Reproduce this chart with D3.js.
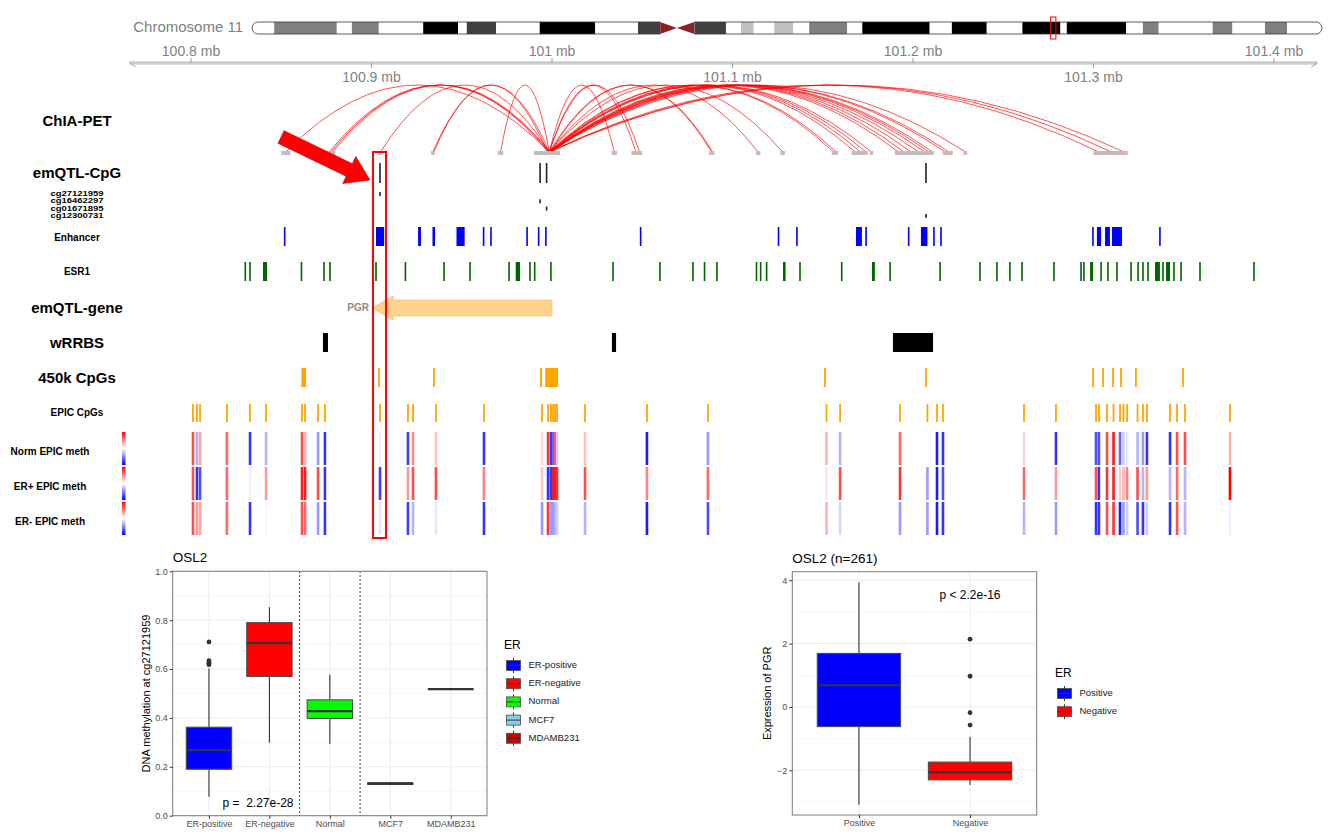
<!DOCTYPE html>
<html>
<head>
<meta charset="utf-8">
<script src="https://cdn.jsdelivr.net/npm/d3@7"></script>
<style>
body { margin: 0; background: #fff; }
text { font-family: "Liberation Sans", Arial, sans-serif; }
</style>
</head>
<body>
<div id="chart"></div>
<script>
// ---- data ----
// chromosome 11 bands [start Mb, end Mb, stain]
var chromBands = [
  [0, 2.8, "gneg"], [2.8, 10.7, "gpos50"], [10.7, 12.6, "gneg"], [12.6, 16.0, "gpos50"],
  [16.0, 21.6, "gneg"], [21.6, 26.0, "gpos100"], [26.0, 27.1, "gneg"], [27.1, 30.8, "gpos75"],
  [30.8, 36.3, "gneg"], [36.3, 43.3, "gpos100"], [43.3, 48.7, "gneg"], [48.7, 51.5, "gpos75"],
  [51.5, 53.6, "acen"], [53.6, 55.8, "acen"], [55.8, 59.8, "gpos75"], [59.8, 61.7, "gneg"],
  [61.7, 63.3, "gpos25"], [63.3, 65.9, "gneg"], [65.9, 68.3, "gpos25"], [68.3, 70.3, "gneg"],
  [70.3, 75.1, "gpos50"], [75.1, 77.0, "gneg"], [77.0, 85.5, "gpos100"], [85.5, 88.3, "gneg"],
  [88.3, 92.7, "gpos100"], [92.7, 97.2, "gneg"], [97.2, 102.0, "gpos100"], [102.0, 102.8, "gneg"],
  [102.8, 110.3, "gpos100"], [110.3, 112.4, "gneg"], [112.4, 114.4, "gpos50"], [114.4, 121.2, "gneg"],
  [121.2, 123.7, "gpos50"], [123.7, 127.8, "gneg"], [127.8, 130.6, "gpos50"], [130.6, 135.0, "gneg"]
];
var chromLength = 135.0;
var viewRange = [100.766, 101.424];
var axisTicks = [100.8, 100.9, 101.0, 101.1, 101.2, 101.3, 101.4];

var chiaAnchors = [
  [100.850, 100.855], [100.875, 100.880], [100.9035, 100.906], [100.933, 100.935], [100.970, 100.973],
  [100.990, 101.0045], [101.033, 101.036], [101.044, 101.050], [101.087, 101.090], [101.113, 101.1155],
  [101.1265, 101.129], [101.155, 101.1585], [101.166, 101.175], [101.176, 101.178], [101.190, 101.2115],
  [101.2165, 101.222], [101.228, 101.230], [101.300, 101.319]
];
var chiaArcs = [
  [100.8525, 100.9985], [100.8765, 100.9980], [100.8775, 100.9985], [100.8785, 100.9990],
  [100.9050, 100.9985], [100.9340, 100.9985], [100.9345, 100.9975], [100.9715, 100.9985],
  [100.9985, 101.0345], [100.9985, 101.0465], [100.9985, 101.0485], [100.9985, 101.0885],
  [100.9990, 101.0890], [100.9985, 101.1142], [100.9985, 101.1278], [100.9985, 101.1560],
  [100.9990, 101.1575], [100.9985, 101.1680], [100.9985, 101.1710], [100.9990, 101.1740],
  [100.9985, 101.1770], [100.9985, 101.1920], [100.9990, 101.1950], [100.9985, 101.1990],
  [100.9985, 101.2030], [100.9990, 101.2065], [100.9985, 101.2090], [100.9985, 101.2110],
  [100.9985, 101.2180], [100.9990, 101.2200], [100.9985, 101.2292], [100.9985, 101.3030],
  [100.9990, 101.3100], [100.9985, 101.3170]
];

var emqtlCpgNames = ["cg27121959", "cg16462297", "cg01671895", "cg12300731"];
var emqtlCpgPos = [100.9047, 100.9934, 100.9970, 101.2072];

var enhancers = [100.8519, [100.9025, 100.9070], [100.9258, 100.9274], [100.9338, 100.9352],
  [100.9471, 100.9516], 100.9621, 100.9662, 100.9862, 100.9926, 100.9966, 101.0491, 101.1255,
  101.1357, [101.1684, 101.1717], 101.1740, 101.1976, [101.2044, 101.2080], 101.2116, 101.2155,
  101.2997, [101.3019, 101.3042], [101.3064, 101.3091], [101.3102, 101.3158], 101.3368];

var esr1Peaks = [100.8301, 100.8327, [100.8399, 100.8421], 100.8612, 100.8737, 100.8770, 100.9025,
  100.9188, 100.9402, 100.9546, 100.9762, [100.9799, 100.9823], 100.9878, 100.9904, 100.9994,
  101.0338, 101.0598, 101.0781, 101.0845, 101.0914, 101.1133, 101.1156, 101.1189, [101.1280, 101.1294],
  101.1374, 101.1605, [101.1773, 101.1789], 101.1873, 101.2150, 101.2371, 101.2465, 101.2537,
  101.2604, 101.2781, 101.2931, 101.2947, [101.2981, 101.2997], 101.3042, 101.3080, 101.3130,
  101.3208, 101.3247, 101.3274, 101.3302, [101.3341, 101.3368], 101.3385, [101.3402, 101.3424],
  101.3446, 101.3485, 101.3590, 101.3889];

var geneName = "PGR";
var geneRange = [100.9003, 101.0000];

var wrrbs = [[100.8731, 100.8759], [101.0332, 101.0355], [101.1889, 101.2111]];

var cpg450k = [[100.8612, 100.8637], 100.9042, 100.9346, [100.9934, 100.9945], [100.9962, 101.0033],
  101.1512, 101.2072, 101.2997, 101.3053, 101.3108, 101.3152, 101.3235, 101.3496];

var epicPos = [100.8011, 100.8033, 100.8050, 100.8199, 100.8327, 100.8416, 100.8615, 100.8632,
  100.8704, 100.8742, 100.9047, 100.9202, 100.9230, 100.9357, 100.9623, 100.9945, 100.9978,
  100.9994, 101.0006, 101.0017, 101.0028, 101.0183, 101.0526, 101.0864, 101.1521, 101.1596,
  101.1928, 101.2080, 101.2133, 101.2166, 101.2615, 101.2792, 101.3014, 101.3030, 101.3075,
  101.3111, 101.3147, 101.3166, 101.3186, 101.3244, 101.3274, 101.3296, 101.3424, 101.3463,
  101.3507, 101.3756];
var normMeth = [0.85, 0.35, 0.68, 0.80, 0.10, 0.35, 0.85, 0.65, 0.30, 0.10, 0.53, 0.12, 0.72, 0.62,
  0.10, 0.58, 0.90, 0.10, 0.20, 0.85, 0.40, 0.62, 0.05, 0.30, 0.65, 0.35, 0.80, 0.50, 0.05, 0.10,
  0.58, 0.10, 0.15, 0.15, 0.85, 0.95, 0.20, 0.40, 0.45, 0.35, 0.30, 0.10, 0.10, 0.85, 0.85, 0.65];
var erPosMeth = [0.85, 0.10, 0.15, 0.80, 0.47, 0.70, 0.95, 0.95, 0.85, 0.10, 0.12, 0.70, 0.85, 0.85,
  0.75, 0.62, 0.10, 0.10, 0.95, 0.95, 0.90, 0.85, 0.75, 0.80, 0.55, 0.85, 0.90, 0.30, 0.05, 0.15,
  0.80, 0.70, 0.85, 0.10, 0.90, 0.95, 0.60, 0.65, 0.75, 0.85, 0.35, 0.70, 0.35, 0.80, 0.35, 1.00];
var erNegMeth = [0.85, 0.70, 0.68, 0.80, 0.10, 0.52, 0.85, 0.80, 0.30, 0.10, 0.45, 0.12, 0.35, 0.45,
  0.10, 0.30, 0.90, 0.30, 0.30, 0.35, 0.40, 0.35, 0.05, 0.15, 0.65, 0.42, 0.30, 0.30, 0.05, 0.10,
  0.35, 0.30, 0.10, 0.10, 0.85, 0.90, 0.05, 0.30, 0.40, 0.15, 0.10, 0.40, 0.10, 0.85, 0.35, 0.47];

// box plot 1: methylation at cg27121959
var methCats = ["ER-positive", "ER-negative", "Normal", "MCF7", "MDAMB231"];
var methFills = ["#0000ff", "#ff0000", "#00ff00", "#87ceeb", "#cd0000"];
var methLow = [0.078, 0.298, 0.293, 0.125, 0.518];
var methQ1 = [0.190, 0.570, 0.398, 0.128, 0.518];
var methMed = [0.268, 0.706, 0.428, 0.131, 0.518];
var methQ3 = [0.362, 0.790, 0.474, 0.135, 0.518];
var methHigh = [0.603, 0.853, 0.577, 0.138, 0.518];
var methOut = [[0.618, 0.624, 0.629, 0.634, 0.711], [], [], [], []];
var methTicks = [0, 0.2, 0.4, 0.6, 0.8, 1.0];

// box plot 2: PGR expression
var exprCats = ["Positive", "Negative"];
var exprFills = ["#0000ff", "#ff0000"];
var exprLow = [-3.09, -2.46];
var exprQ1 = [-0.62, -2.30];
var exprMed = [0.685, -2.06];
var exprQ3 = [1.69, -1.74];
var exprHigh = [3.93, -0.94];
var exprOut = [[], [2.14, 0.97, -0.18, -0.57]];
var exprTicks = [-2, 0, 2, 4];

// ---- drawing ----
var svg = d3.select("#chart").append("svg").attr("width", 1328).attr("height", 838);

var x = d3.scaleLinear().domain([100.8, 101.4]).range([191, 1274]);
var meth = d3.scaleLinear().domain([0, 0.5, 1]).range(["#0000ff", "#ffffff", "#ff0000"]);
function fs(d) { return Array.isArray(d) ? d[0] : d; }
function fe(d) { return Array.isArray(d) ? d[1] : d; }

// ideogram
var ix = d3.scaleLinear().domain([0, chromLength]).range([252, 1322]);
var idTop = 22, idH = 12, r = 6;
var bandFill = { gneg: "#ffffff", gpos25: "#c0c0c0", gpos50: "#808080", gpos75: "#404040", gpos100: "#000000", acen: "#8b2323" };
svg.append("clipPath").attr("id", "chr").append("rect")
  .attr("x", ix(0)).attr("y", idTop).attr("width", ix(chromLength) - ix(0)).attr("height", idH).attr("rx", r);
svg.append("g").attr("clip-path", "url(#chr)")
  .selectAll("rect").data(chromBands.filter(function(b) { return b[2] !== "acen"; })).join("rect")
  .attr("x", function(d) { return ix(d[0]); }).attr("width", function(d) { return ix(d[1]) - ix(d[0]); })
  .attr("y", idTop).attr("height", idH).attr("fill", function(d) { return bandFill[d[2]]; });
var acen = chromBands.filter(function(b) { return b[2] === "acen"; });
var pEnd = ix(acen[0][0]), cMid = ix(acen[0][1]), qStart = ix(acen[1][1]);
svg.append("rect").attr("x", pEnd).attr("y", idTop).attr("width", qStart - pEnd).attr("height", idH).attr("fill", "#fff");
svg.append("path")
  .attr("d", "M" + pEnd + "," + idTop + "L" + cMid + "," + (idTop + idH / 2) + "L" + pEnd + "," + (idTop + idH) + "Z" +
    "M" + qStart + "," + idTop + "L" + cMid + "," + (idTop + idH / 2) + "L" + qStart + "," + (idTop + idH) + "Z")
  .attr("fill", bandFill.acen);
var x0 = ix(0), x1 = ix(chromLength);
svg.append("path")
  .attr("d", "M" + pEnd + "," + idTop + "L" + (x0 + r) + "," + idTop + "A" + r + "," + r + " 0 0 0 " + (x0 + r) + "," + (idTop + idH) +
    "L" + pEnd + "," + (idTop + idH) +
    "M" + qStart + "," + idTop + "L" + (x1 - r) + "," + idTop + "A" + r + "," + r + " 0 0 1 " + (x1 - r) + "," + (idTop + idH) +
    "L" + qStart + "," + (idTop + idH))
  .attr("fill", "none").attr("stroke", "#333").attr("stroke-width", 0.8);
svg.append("rect").attr("x", ix(viewRange[0])).attr("y", 17).attr("width", ix(viewRange[1]) - ix(viewRange[0]))
  .attr("height", 22).attr("fill", "none").attr("stroke", "#ff0000").attr("stroke-width", 1);
svg.append("text").attr("x", 243).attr("y", 28).attr("text-anchor", "end").attr("dominant-baseline", "middle")
  .attr("font-size", 15).attr("fill", "#808080").text("Chromosome 11");

// genome axis
var axY = 63;
var gAx = svg.append("g");
gAx.append("line").attr("x1", x(viewRange[0])).attr("x2", x(viewRange[1])).attr("y1", axY).attr("y2", axY)
  .attr("stroke", "#b5b5b5").attr("stroke-width", 3);
gAx.append("line").attr("x1", x(viewRange[0])).attr("x2", x(viewRange[1])).attr("y1", axY).attr("y2", axY)
  .attr("stroke", "#eeeeee").attr("stroke-width", 0.8);
gAx.append("path").attr("d", "M" + (x(viewRange[0]) + 6) + "," + (axY + 4) + "L" + x(viewRange[0]) + "," + axY +
    "M" + (x(viewRange[1]) - 6) + "," + (axY + 4) + "L" + x(viewRange[1]) + "," + axY)
  .attr("stroke", "#a0a0a0").attr("fill", "none");
axisTicks.forEach(function(v, i) {
  var up = i % 2 === 0;
  gAx.append("line").attr("x1", x(v)).attr("x2", x(v)).attr("y1", axY).attr("y2", up ? axY - 5 : axY + 5)
    .attr("stroke", "#a0a0a0");
  gAx.append("text").attr("x", x(v)).attr("y", up ? 56 : 82).attr("text-anchor", "middle")
    .attr("font-size", 14).attr("fill", "#808080").text((+v.toFixed(1)) + " mb");
});

// ChIA-PET
var baseY = 152;
svg.append("g").selectAll("path").data(chiaArcs).join("path")
  .attr("d", function(d) {
    var a = x(d[0]), b = x(d[1]);
    return "M" + a + "," + baseY + "Q" + ((a + b) / 2) + "," + (2 * 85 - baseY) + " " + b + "," + baseY;
  })
  .attr("fill", "none").attr("stroke", "#ff0000").attr("stroke-width", 0.9).attr("stroke-opacity", 0.75);
svg.append("g").selectAll("rect").data(chiaAnchors).join("rect")
  .attr("x", function(d) { return x(d[0]); }).attr("width", function(d) { return Math.max(x(d[1]) - x(d[0]), 2); })
  .attr("y", 151).attr("height", 4).attr("fill", "#bebebe");

function drawFeatures(data, y0, h, color, minW) {
  svg.append("g").selectAll("rect").data(data).join("rect")
    .attr("x", function(d) { var w = Math.max(x(fe(d)) - x(fs(d)), minW); return (x(fs(d)) + x(fe(d))) / 2 - w / 2; })
    .attr("width", function(d) { return Math.max(x(fe(d)) - x(fs(d)), minW); })
    .attr("y", y0).attr("height", h).attr("fill", color);
}

// emQTL-CpG
drawFeatures(emqtlCpgPos, 163, 20, "#222", 1.6);
emqtlCpgPos.forEach(function(p, i) {
  drawFeatures([p], 192 + i * 7.3, 4, "#222", 1.6);
});
drawFeatures(enhancers, 227, 19, "#0000ff", 1.6);
drawFeatures(esr1Peaks, 262, 19, "#006400", 1.6);

// gene arrow
var gx0 = x(geneRange[0]), gx1 = x(geneRange[1]), gy = 308;
svg.append("path")
  .attr("d", "M" + gx0 + "," + gy + "L" + (gx0 + 21) + "," + (gy - 12) + "L" + (gx0 + 21) + "," + (gy - 8) +
    "L" + gx1 + "," + (gy - 8) + "L" + gx1 + "," + (gy + 8) + "L" + (gx0 + 21) + "," + (gy + 8) +
    "L" + (gx0 + 21) + "," + (gy + 12) + "Z")
  .attr("fill", "#fdd28c").attr("stroke", "#f3c27a").attr("stroke-width", 0.8);
svg.append("text").attr("x", gx0 - 3).attr("y", gy + 0.5).attr("text-anchor", "end").attr("dominant-baseline", "middle")
  .attr("font-size", 10).attr("font-weight", "bold").attr("fill", "#8c8c8c").text(geneName);

drawFeatures(wrrbs, 333, 19, "#000", 1.6);
drawFeatures(cpg450k, 368, 19, "#ffa500", 1.8);
drawFeatures(epicPos, 404, 18, "#ffa500", 1.8);

// methylation heat tracks
var methRows = [normMeth, erPosMeth, erNegMeth];
var methRowY = [432, 467, 502];
methRows.forEach(function(vals, k) {
  svg.append("g").selectAll("rect").data(epicPos).join("rect")
    .attr("x", function(d) { return x(d) - 1.3; }).attr("width", 2.6)
    .attr("y", methRowY[k]).attr("height", 33)
    .attr("fill", function(d, i) { return meth(vals[i]); });
});
var grad = svg.append("defs").append("linearGradient").attr("id", "mg").attr("x1", 0).attr("x2", 0).attr("y1", 0).attr("y2", 1);
grad.append("stop").attr("offset", "0%").attr("stop-color", "#ff0000");
grad.append("stop").attr("offset", "50%").attr("stop-color", "#ffffff");
grad.append("stop").attr("offset", "100%").attr("stop-color", "#0000ff");
methRowY.forEach(function(y0) {
  svg.append("rect").attr("x", 122).attr("y", y0).attr("width", 3.5).attr("height", 33).attr("fill", "url(#mg)");
});

// track labels
var labels = [
  ["ChIA-PET", 77, 122, 15], ["emQTL-CpG", 77, 174, 15], ["Enhancer", 77, 238, 10], ["ESR1", 77, 272.5, 10],
  ["emQTL-gene", 77, 309, 15], ["wRRBS", 77, 344, 15], ["450k CpGs", 77, 379, 15], ["EPIC CpGs", 77, 413.5, 10],
  ["Norm EPIC meth", 50, 452.5, 10], ["ER+ EPIC meth", 50, 487.5, 10], ["ER- EPIC meth", 50, 522.5, 10]
];
labels.forEach(function(l) {
  svg.append("text").attr("x", l[1]).attr("y", l[2]).attr("text-anchor", "middle").attr("dominant-baseline", "middle")
    .attr("font-size", l[3]).attr("font-weight", "bold").attr("fill", "#000").text(l[0]);
});
emqtlCpgNames.forEach(function(n, i) {
  svg.append("text").attr("transform", "translate(77," + (194.5 + i * 7.3) + ") scale(1.5,1)")
    .attr("text-anchor", "middle").attr("dominant-baseline", "middle")
    .attr("font-size", 6.3).attr("font-weight", "bold").text(n);
});

// highlight box and arrow
var hx = x(emqtlCpgPos[0]);
svg.append("rect").attr("x", hx - 7).attr("y", 152).attr("width", 13).attr("height", 386)
  .attr("fill", "none").attr("stroke", "#ff0000").attr("stroke-width", 2);
(function() {
  var tip = [hx - 10, 180], tail = [281, 137];
  var dx = tip[0] - tail[0], dy = tip[1] - tail[1], len = Math.sqrt(dx * dx + dy * dy);
  var u = [dx / len, dy / len], n = [-u[1], u[0]];
  var sw = 7, hw = 15, hl = 23;
  var neck = [tip[0] - u[0] * hl, tip[1] - u[1] * hl];
  var pts = [
    [tail[0] + n[0] * sw, tail[1] + n[1] * sw], [neck[0] + n[0] * sw, neck[1] + n[1] * sw],
    [neck[0] + n[0] * hw, neck[1] + n[1] * hw], tip,
    [neck[0] - n[0] * hw, neck[1] - n[1] * hw], [neck[0] - n[0] * sw, neck[1] - n[1] * sw],
    [tail[0] - n[0] * sw, tail[1] - n[1] * sw]
  ];
  svg.append("path").attr("d", "M" + pts.join("L") + "Z").attr("fill", "#ff0000")
    .attr("stroke", "#c00000").attr("stroke-width", 0.6);
})();

// ---- box plots ----
function boxPlot(o) {
  var g = svg.append("g");
  var xs = d3.scalePoint().domain(o.cats).range([o.left, o.right]).padding(0.6);
  var ys = d3.scaleLinear().domain(o.yDomain).range([o.bottom, o.top]);
  var bw = xs.step() * 0.75;
  g.append("rect").attr("x", o.left).attr("y", o.top).attr("width", o.right - o.left).attr("height", o.bottom - o.top).attr("fill", "#fff");
  o.minor.forEach(function(v) {
    g.append("line").attr("x1", o.left).attr("x2", o.right).attr("y1", ys(v)).attr("y2", ys(v)).attr("stroke", "#f2f2f2").attr("stroke-width", 0.6);
  });
  o.ticks.forEach(function(v) {
    g.append("line").attr("x1", o.left).attr("x2", o.right).attr("y1", ys(v)).attr("y2", ys(v)).attr("stroke", "#ebebeb").attr("stroke-width", 1);
  });
  o.cats.forEach(function(c) {
    g.append("line").attr("x1", xs(c)).attr("x2", xs(c)).attr("y1", o.top).attr("y2", o.bottom).attr("stroke", "#ebebeb").attr("stroke-width", 1);
  });
  (o.dividers || []).forEach(function(v) {
    var xv = (xs(o.cats[v - 1]) + xs(o.cats[v])) / 2;
    g.append("line").attr("x1", xv).attr("x2", xv).attr("y1", o.top).attr("y2", o.bottom)
      .attr("stroke", "#000").attr("stroke-width", 1).attr("stroke-dasharray", "1.5,2.5");
  });
  o.cats.forEach(function(c, i) {
    var cx = xs(c);
    g.append("line").attr("x1", cx).attr("x2", cx).attr("y1", ys(o.high[i])).attr("y2", ys(o.q3[i])).attr("stroke", "#333").attr("stroke-width", 1.1);
    g.append("line").attr("x1", cx).attr("x2", cx).attr("y1", ys(o.q1[i])).attr("y2", ys(o.low[i])).attr("stroke", "#333").attr("stroke-width", 1.1);
    g.append("rect").attr("x", cx - bw / 2).attr("width", bw).attr("y", ys(o.q3[i])).attr("height", Math.max(ys(o.q1[i]) - ys(o.q3[i]), 0.01))
      .attr("fill", o.fills[i]).attr("stroke", "#4d4d4d").attr("stroke-width", 1.1);
    g.append("line").attr("x1", cx - bw / 2).attr("x2", cx + bw / 2).attr("y1", ys(o.med[i])).attr("y2", ys(o.med[i])).attr("stroke", "#333").attr("stroke-width", 2.2);
    g.selectAll(null).data(o.out[i]).join("circle").attr("cx", cx).attr("cy", function(d) { return ys(d); }).attr("r", 2.4).attr("fill", "#333");
  });
  g.append("rect").attr("x", o.left).attr("y", o.top).attr("width", o.right - o.left).attr("height", o.bottom - o.top)
    .attr("fill", "none").attr("stroke", "#7a7a7a").attr("stroke-width", 1);
  var ya = g.append("g").attr("transform", "translate(" + o.left + ",0)")
    .call(d3.axisLeft(ys).tickValues(o.ticks).tickFormat(o.fmt).tickSize(3).tickPadding(2));
  ya.select(".domain").remove();
  ya.selectAll("line").attr("stroke", "#333");
  ya.selectAll("text").attr("fill", "#4d4d4d").attr("font-size", 9).attr("font-family", "Liberation Sans, Arial, sans-serif");
  var xa = g.append("g").attr("transform", "translate(0," + o.bottom + ")")
    .call(d3.axisBottom(xs).tickSize(3).tickPadding(2));
  xa.select(".domain").remove();
  xa.selectAll("line").attr("stroke", "#333");
  xa.selectAll("text").attr("fill", "#4d4d4d").attr("font-size", 9).attr("font-family", "Liberation Sans, Arial, sans-serif");
  g.append("text").attr("x", o.left).attr("y", o.top - 9).attr("font-size", 13.5).text(o.title);
  g.append("text").attr("transform", "translate(" + o.ylabX + "," + ((o.top + o.bottom) / 2) + ") rotate(-90)")
    .attr("text-anchor", "middle").attr("dominant-baseline", "middle").attr("font-size", 11).text(o.ylab);
  g.append("text").attr("x", o.pX).attr("y", ys(o.pY)).attr("text-anchor", "middle").attr("dominant-baseline", "middle")
    .attr("font-size", 12).style("white-space", "pre").text(o.ptext);
  // legend
  g.append("text").attr("x", o.legX).attr("y", o.legY).attr("dominant-baseline", "middle").attr("font-size", 12).text("ER");
  o.legLabels.forEach(function(lab, i) {
    var ky = o.legY + 19.5 + i * 18.2, kx = o.legX + 2.5;
    g.append("line").attr("x1", kx + 7).attr("x2", kx + 7).attr("y1", ky - 7.5).attr("y2", ky + 7.5).attr("stroke", "#333");
    g.append("rect").attr("x", kx).attr("y", ky - 5).attr("width", 14).attr("height", 10).attr("fill", o.fills[i]).attr("stroke", "#4d4d4d").attr("stroke-width", 0.8);
    g.append("line").attr("x1", kx).attr("x2", kx + 14).attr("y1", ky).attr("y2", ky).attr("stroke", "#333").attr("stroke-width", 1);
    g.append("text").attr("x", kx + 22).attr("y", ky).attr("dominant-baseline", "middle").attr("font-size", 9.5).attr("fill", "#1a1a1a").text(lab);
  });
}

boxPlot({
  cats: methCats, fills: methFills, low: methLow, q1: methQ1, med: methMed, q3: methQ3, high: methHigh, out: methOut,
  left: 172.7, right: 487, top: 571.3, bottom: 815.7, yDomain: [0, 1], ticks: methTicks,
  minor: [0.1, 0.3, 0.5, 0.7, 0.9], fmt: d3.format(".1f"), dividers: [2, 3],
  title: "OSL2", ylab: "DNA methylation at cg27121959", ylabX: 147,
  ptext: "p =  2.27e-28", pX: 258, pY: 0.05,
  legX: 504, legY: 646, legLabels: methCats
});
boxPlot({
  cats: exprCats, fills: exprFills, low: exprLow, q1: exprQ1, med: exprMed, q3: exprQ3, high: exprHigh, out: exprOut,
  left: 792.3, right: 1036.7, top: 571.7, bottom: 815, yDomain: [-3.41, 4.27], ticks: exprTicks,
  minor: [-3, -1, 1, 3], fmt: d3.format("d"),
  title: "OSL2 (n=261)", ylab: "Expression of PGR", ylabX: 768,
  ptext: "p < 2.2e-16", pX: 970, pY: 3.5,
  legX: 1055, legY: 674, legLabels: exprCats
});
</script>
</body>
</html>
